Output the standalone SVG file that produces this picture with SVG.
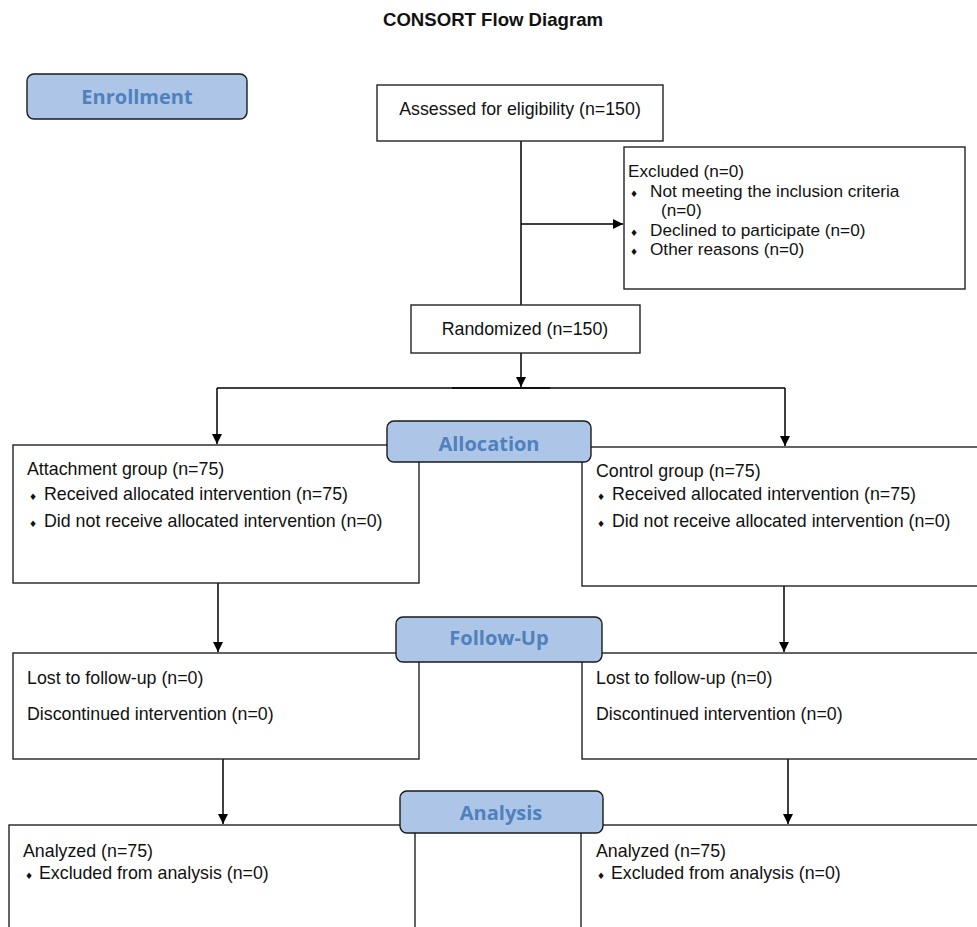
<svg xmlns="http://www.w3.org/2000/svg" width="977" height="927" viewBox="0 0 977 927">
<defs>
<marker id="arr" viewBox="0 0 10 10" refX="10" refY="5" markerWidth="10" markerHeight="10" markerUnits="userSpaceOnUse" orient="auto">
<path d="M0,0 L10,5 L0,10 z" fill="#000"/>
</marker>
<style>
.box{fill:#fff;stroke:#222;stroke-width:1.4}
.lab{fill:#adc5e6;stroke:#1a1a1a;stroke-width:1.4}
.lt{font-family:"Open Sans","Liberation Sans",sans-serif;font-weight:bold;font-size:20px;fill:#4f81bd;text-anchor:middle}
.t{font-family:"Liberation Sans",Arial,sans-serif;font-size:17.8px;fill:#111}
.e{font-size:17.2px}
.b{font-family:"DejaVu Sans",sans-serif;font-size:9px}
.c{fill:none;stroke:#000;stroke-width:1.5}
</style>
</defs>
<rect width="977" height="927" fill="#fff"/>
<text x="493" y="26" font-family="Liberation Sans,Arial,sans-serif" font-weight="bold" font-size="18.6" text-anchor="middle" fill="#111">CONSORT Flow Diagram</text>

<g id="connectors">
<path class="c" d="M521,141 V305"/>
<path class="c" d="M521,224 H623" marker-end="url(#arr)"/>
<path class="c" d="M521,353 V387" marker-end="url(#arr)"/>
<path class="c" d="M217,388 H785"/>
<path class="c" d="M452,388 H550" stroke-width="2.5"/>
<path class="c" d="M217,388 V444" marker-end="url(#arr)"/>
<path class="c" d="M785,388 V446" marker-end="url(#arr)"/>
<path class="c" d="M218,583 V652" marker-end="url(#arr)"/>
<path class="c" d="M784,586 V652" marker-end="url(#arr)"/>
<path class="c" d="M223,759 V824" marker-end="url(#arr)"/>
<path class="c" d="M788,759 V824" marker-end="url(#arr)"/>
</g>

<g id="assessed">
<rect class="box" x="377" y="85" width="286" height="56"/>
<text class="t" x="520" y="115" text-anchor="middle">Assessed for eligibility (n=150)</text>
</g>

<g id="excluded">
<rect class="box" x="624" y="147" width="341" height="142"/>
<text class="t e" x="628" y="177">Excluded (n=0)</text>
<text class="t e" y="196.5"><tspan class="b" x="630">♦</tspan><tspan x="650">Not meeting the inclusion criteria</tspan></text>
<text class="t e" x="661" y="216">(n=0)</text>
<text class="t e" y="235.5"><tspan class="b" x="630">♦</tspan><tspan x="650">Declined to participate (n=0)</tspan></text>
<text class="t e" y="255"><tspan class="b" x="630">♦</tspan><tspan x="650">Other reasons (n=0)</tspan></text>
</g>

<g id="randomized">
<rect class="box" x="411" y="305" width="229" height="48"/>
<text class="t" x="525" y="335" text-anchor="middle">Randomized (n=150)</text>
</g>

<g id="attachment">
<rect class="box" x="13" y="445" width="406" height="138"/>
<text class="t" x="27" y="475">Attachment group (n=75)</text>
<text class="t" y="500"><tspan class="b" x="29">♦</tspan><tspan x="44">Received allocated intervention (n=75)</tspan></text>
<text class="t" y="527"><tspan class="b" x="29">♦</tspan><tspan x="44">Did not receive allocated intervention (n=0)</tspan></text>
</g>

<g id="control">
<rect class="box" x="582" y="447" width="410" height="139"/>
<text class="t" x="596" y="477">Control group (n=75)</text>
<text class="t" y="500"><tspan class="b" x="597">♦</tspan><tspan x="612">Received allocated intervention (n=75)</tspan></text>
<text class="t" y="527"><tspan class="b" x="597">♦</tspan><tspan x="612">Did not receive allocated intervention (n=0)</tspan></text>
</g>

<g id="followup-left">
<rect class="box" x="13" y="653" width="406" height="106"/>
<text class="t" x="27" y="684">Lost to follow-up (n=0)</text>
<text class="t" x="27" y="720">Discontinued intervention (n=0)</text>
</g>

<g id="followup-right">
<rect class="box" x="582" y="653" width="410" height="106"/>
<text class="t" x="596" y="684">Lost to follow-up (n=0)</text>
<text class="t" x="596" y="720">Discontinued intervention (n=0)</text>
</g>

<g id="analysis-left">
<rect class="box" x="9" y="825" width="406" height="120"/>
<text class="t" x="23" y="857">Analyzed (n=75)</text>
<text class="t" y="879"><tspan class="b" x="25">♦</tspan><tspan x="39">Excluded from analysis (n=0)</tspan></text>
</g>

<g id="analysis-right">
<rect class="box" x="581" y="825" width="410" height="120"/>
<text class="t" x="596" y="857">Analyzed (n=75)</text>
<text class="t" y="879"><tspan class="b" x="597">♦</tspan><tspan x="611">Excluded from analysis (n=0)</tspan></text>
</g>

<g id="enrollment">
<rect class="lab" x="27" y="74" width="220" height="45" rx="7"/>
<text class="lt" x="137" y="104">Enrollment</text>
</g>
<g id="allocation">
<rect class="lab" x="387" y="421" width="204" height="41" rx="7"/>
<text class="lt" x="489" y="451">Allocation</text>
</g>
<g id="followup">
<rect class="lab" x="396" y="617" width="206" height="45" rx="7"/>
<text class="lt" x="499" y="645">Follow-Up</text>
</g>
<g id="analysis">
<rect class="lab" x="400" y="791" width="203" height="42" rx="7"/>
<text class="lt" x="501" y="820">Analysis</text>
</g>
</svg>
